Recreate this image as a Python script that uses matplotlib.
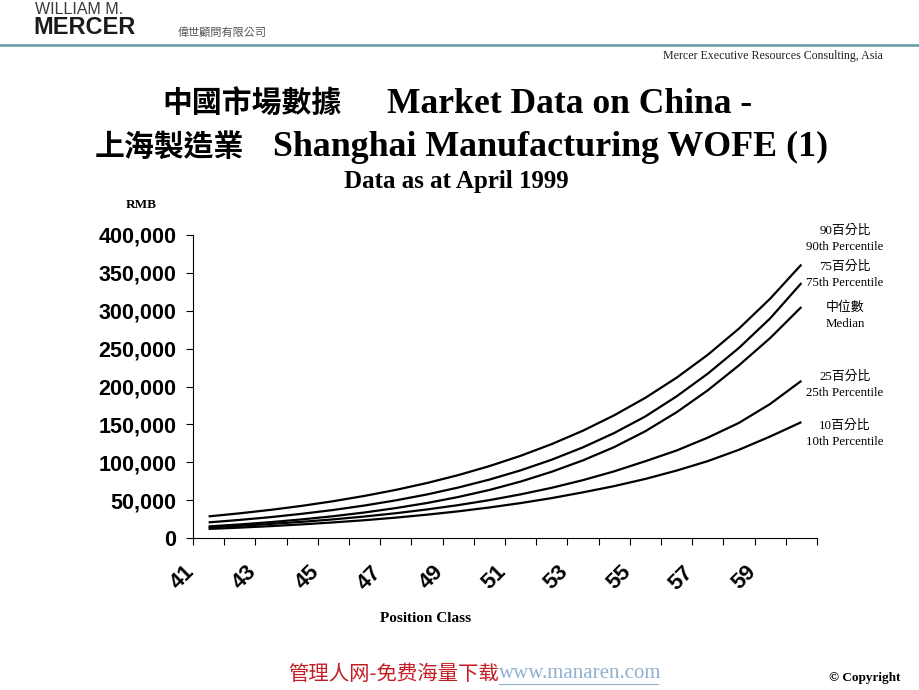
import matplotlib
matplotlib.use("Agg")
import matplotlib.pyplot as plt
import matplotlib.transforms as mtransforms
from matplotlib.ticker import FuncFormatter, MultipleLocator

# Position classes on the x axis
positions = list(range(41, 61))
tick_labels = ["41", "43", "45", "47", "49", "51", "53", "55", "57", "59"]

# Salary levels (RMB)
p90 = [28500, 32600, 37200, 42500, 48600, 55600, 63500, 72600, 83000, 94900,
       108500, 124000, 141700, 162000, 185100, 211600, 241900, 276500, 316000, 361000]
p75 = [20600, 23900, 27600, 32000, 37000, 42900, 49700, 57500, 66600, 77100,
       89300, 103400, 119700, 138600, 160500, 187000, 217000, 251000, 290000, 336500]
median = [15300, 17900, 21000, 24600, 28800, 33700, 39500, 46200, 54100, 63400,
          74500, 87500, 102500, 120000, 141000, 166000, 195000, 228000, 264000, 305000]
p25 = [14000, 16100, 18600, 21400, 24600, 28400, 32700, 37700, 43400, 50000,
       57600, 66300, 76400, 88000, 101400, 115500, 132500, 152000, 177000, 207500]
p10 = [12000, 13700, 15700, 18000, 20600, 23500, 26900, 30800, 35200, 40300,
       46100, 52700, 60300, 68500, 78000, 89000, 101500, 116500, 134000, 153000]

series = [p90, p75, median, p25, p10]
label_cn = ["90百分比", "75百分比", "中位數", "25百分比", "10百分比"]
label_en = ["90th Percentile", "75th Percentile", "Median", "25th Percentile", "10th Percentile"]
label_y = [231, 267, 308, 377, 426]  # pixel rows of the Chinese line

W, H = 920, 690
fig = plt.figure(figsize=(9.2, 6.9), dpi=100)


def fx(x):
    return x / W


def fy(y):
    return 1 - y / H


serif = ["Liberation Serif", "Noto Sans CJK TC"]
sans = ["Liberation Sans", "DejaVu Sans"]

# Header
fig.text(fx(35), fy(9), "WILLIAM M.", family=sans, fontsize=11.5, color="#3a3a3a",
         va="center", ha="left")
fig.text(fx(33), fy(28), "MERCER", family=sans, fontsize=17, weight="bold", color="#1a1a1a",
         va="center", ha="left")
fig.text(fx(178), fy(32), "偉世顧問有限公司", family=["Noto Sans CJK TC"], fontsize=8,
         color="#555555", va="center", ha="left")
fig.add_artist(plt.Line2D([0, 1], [fy(45), fy(45)], color="#5f9ea3", lw=1.8))
fig.text(fx(883), fy(56), "Mercer Executive Resources Consulting, Asia", family=serif,
         fontsize=8.6, color="#222222", va="center", ha="right")

# Title
fig.text(fx(162), fy(113), "中國市場數據", family=["Noto Sans CJK TC"], fontsize=21.5,
         weight="bold", va="baseline", ha="left")
fig.text(fx(387), fy(113), "Market Data on China -", family=serif, fontsize=25.6,
         weight="bold", va="baseline", ha="left")
fig.text(fx(95), fy(156), "上海製造業", family=["Noto Sans CJK TC"], fontsize=21.5,
         weight="bold", va="baseline", ha="left")
fig.text(fx(273), fy(156), "Shanghai Manufacturing WOFE (1)", family=serif, fontsize=25.8,
         weight="bold", va="baseline", ha="left")
fig.text(fx(456), fy(188), "Data as at April 1999", family=serif, fontsize=18,
         weight="bold", va="baseline", ha="center")

# Chart
ax = fig.add_axes([fx(193), fy(538), fx(817) - fx(193), fy(235) - fy(538)])
for s in series:
    ax.plot(positions, s, color="black", lw=1.6, solid_capstyle="butt")

ax.set_xlim(40.5, 60.5)
ax.set_ylim(0, 400000)
ax.spines["top"].set_visible(False)
ax.spines["right"].set_visible(False)
ax.spines["left"].set_linewidth(0.8)
ax.spines["bottom"].set_linewidth(0.8)

ax.yaxis.set_major_locator(MultipleLocator(50000))
ax.yaxis.set_major_formatter(FuncFormatter(lambda v, p: f"{int(v):,}"))
ax.tick_params(axis="y", length=5, width=0.8, pad=7, labelsize=15.5)
for t in ax.get_yticklabels():
    t.set_family(sans)
    t.set_weight("bold")

ax.set_xticks([int(t) for t in tick_labels])
ax.set_xticklabels(tick_labels, rotation=45, ha="right", va="top",
                   rotation_mode="anchor", family=sans, fontsize=16, weight="bold")
ax.set_xticks([x + 0.5 for x in range(40, 61)], minor=True)
ax.tick_params(axis="x", which="major", length=0, pad=17)
ax.tick_params(axis="x", which="minor", length=5, width=0.8)
# shift the rotated labels left, like the original
shift = mtransforms.ScaledTranslation(-0.25, 0, fig.dpi_scale_trans)
for t in ax.get_xticklabels():
    t.set_transform(t.get_transform() + shift)

fig.text(fx(141), fy(205), "RMB", family=serif, fontsize=9.5, weight="bold",
         va="center", ha="center")
fig.text(fx(426), fy(619), "Position Class", family=serif, fontsize=11, weight="bold",
         va="center", ha="center")

# Series labels at the right
for cn, en, y in zip(label_cn, label_en, label_y):
    fig.text(fx(845), fy(y), cn, family=serif, fontsize=9.3, va="center", ha="center")
    fig.text(fx(845), fy(y + 16), en, family=serif, fontsize=9.3, va="center", ha="center")

# Footer
fig.text(fx(288), fy(674), "管理人网-免费海量下载", family=["Noto Sans CJK SC"],
         fontsize=14.7, color="#c41e24", va="center", ha="left")
fig.text(fx(499), fy(674), "www.manaren.com", family=serif, fontsize=15,
         color="#8fb0d0", va="center", ha="left")
fig.add_artist(plt.Line2D([fx(499), fx(658)], [fy(684), fy(684)], color="#8fb0d0", lw=0.8))
fig.text(fx(900), fy(678), "© Copyright", family=serif, fontsize=9.5, weight="bold",
         va="center", ha="right")

fig.savefig("out.png", dpi=100)
